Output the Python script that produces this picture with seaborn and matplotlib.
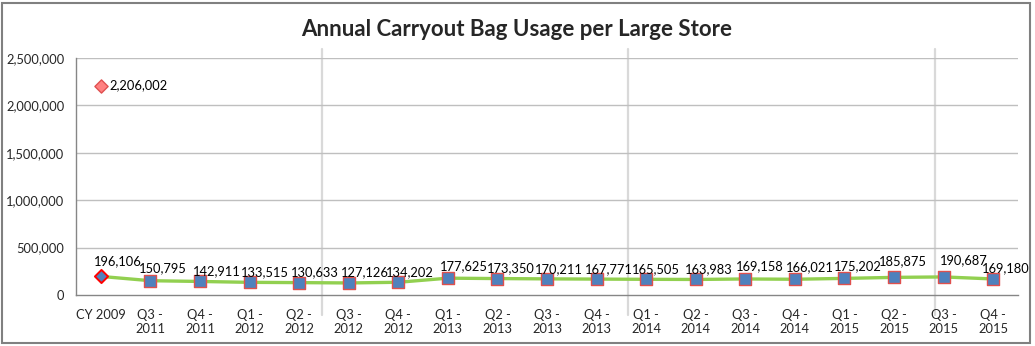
import matplotlib
matplotlib.use("Agg")
import matplotlib.pyplot as plt
from matplotlib.lines import Line2D
from matplotlib.patches import Rectangle
import seaborn as sns
import pandas as pd

# Periods on the x axis
periods = ["CY 2009", "Q3 -\n2011", "Q4 -\n2011", "Q1 -\n2012", "Q2 -\n2012",
           "Q3 -\n2012", "Q4 -\n2012", "Q1 -\n2013", "Q2 -\n2013", "Q3 -\n2013",
           "Q4 -\n2013", "Q1 -\n2014", "Q2 -\n2014", "Q3 -\n2014", "Q4 -\n2014",
           "Q1 -\n2015", "Q2 -\n2015", "Q3 -\n2015", "Q4 -\n2015"]

# Bags per large store
bags = [196106, 150795, 142911, 133515, 130633, 127126, 134202, 177625, 173350,
        170211, 167771, 165505, 163983, 169158, 166021, 175202, 185875, 190687,
        169180]

# Baseline figure shown separately for CY 2009
baseline_period = "CY 2009"
baseline_value = 2206002

y_ticks = [0, 500000, 1000000, 1500000, 2000000, 2500000]

# Label offsets (pixels) relative to each marker
label_dx = [17, 12, 17, 15, 16, 16, 12, 16, 13, 12, 12, 10, 13, 14, 15, 13, 9, 20, 13]
label_dy = [15, 13, 10, 10, 10, 11, 10, 12, 10, 10, 10, 10, 10, 13, 12, 12, 16, 17, 11]

sns.set_theme(style="white")
plt.rcParams["font.family"] = ["Lato", "DejaVu Sans"]

FS = 9.3

df = pd.DataFrame({"period": periods, "bags": bags, "idx": range(len(periods))})

fig = plt.figure(figsize=(10.35, 3.46), dpi=100)
ax = fig.add_axes([76 / 1035, 1 - 295 / 346, (1018 - 76) / 1035, (295 - 58) / 346])
ax.patch.set_alpha(0)

grid_c = "#BFBFBF"
axis_c = "#868686"
for v in y_ticks[1:]:
    ax.axhline(v, color=grid_c, lw=1.0, zorder=0)

sns.lineplot(data=df, x="idx", y="bags", ax=ax, color="#92D050", lw=2.4,
             zorder=2, legend=False)
sns.scatterplot(data=df.iloc[1:], x="idx", y="bags", ax=ax, marker="s", s=78,
                color="#4F81BD", edgecolor="#E0504D", linewidth=1.0, zorder=3,
                legend=False)
sns.scatterplot(data=df.iloc[:1], x="idx", y="bags", ax=ax, marker="D", s=45,
                color="#4F81BD", edgecolor="#FF0000", linewidth=1.4, zorder=3,
                legend=False)
bx = periods.index(baseline_period)
sns.scatterplot(x=[bx], y=[baseline_value], ax=ax, marker="D", s=45,
                color="#FF8080", edgecolor="#E05050", linewidth=1.0, zorder=3,
                legend=False)

for i, v in enumerate(bags):
    ax.annotate(f"{v:,}", (i, v), xytext=(label_dx[i], label_dy[i]),
                textcoords="offset pixels", ha="center", va="center",
                fontsize=FS, color="#000000")
ax.annotate(f"{baseline_value:,}", (bx, baseline_value), xytext=(9, 1),
            textcoords="offset pixels", ha="left", va="center",
            fontsize=FS, color="#000000")

ax.set_xlim(-0.5, len(periods) - 0.5)
ax.set_ylim(0, 2500000)
ax.set_yticks(y_ticks)
ax.set_yticklabels([f"{v:,}" for v in y_ticks], fontsize=FS)
ax.set_xticks(range(len(periods)))
ax.set_xticklabels(periods, fontsize=FS, linespacing=1.25, va="top")
ax.set_xticks([i - 0.5 for i in range(len(periods) + 1)], minor=True)
ax.tick_params(axis="x", which="major", length=0, pad=10)
ax.tick_params(axis="x", which="minor", length=5, color=axis_c, width=1)
ax.tick_params(axis="y", length=0, pad=8.5)
ax.set_xlabel("")
ax.set_ylabel("")
for side in ["top", "right"]:
    ax.spines[side].set_visible(False)
for side in ["left", "bottom"]:
    ax.spines[side].set_color(axis_c)
    ax.spines[side].set_linewidth(1.0)

# Light sheet gridlines behind the chart
for px in (322, 628, 935):
    fig.add_artist(Line2D([px / 1035, px / 1035], [1 - 315 / 346, 1 - 49 / 346],
                          color="#D9D9D9", lw=1.6, zorder=-1))

# Chart frame
fig.add_artist(Rectangle((2 / 1035, 3 / 346), 1028 / 1035, 340 / 346,
                         fill=False, edgecolor="#808080", lw=1.5))

fig.text(517 / 1035, 1 - 30 / 346, "Annual Carryout Bag Usage per Large Store",
         ha="center", va="center", fontsize=16, fontweight="bold")

fig.savefig("out.png", dpi=100)
